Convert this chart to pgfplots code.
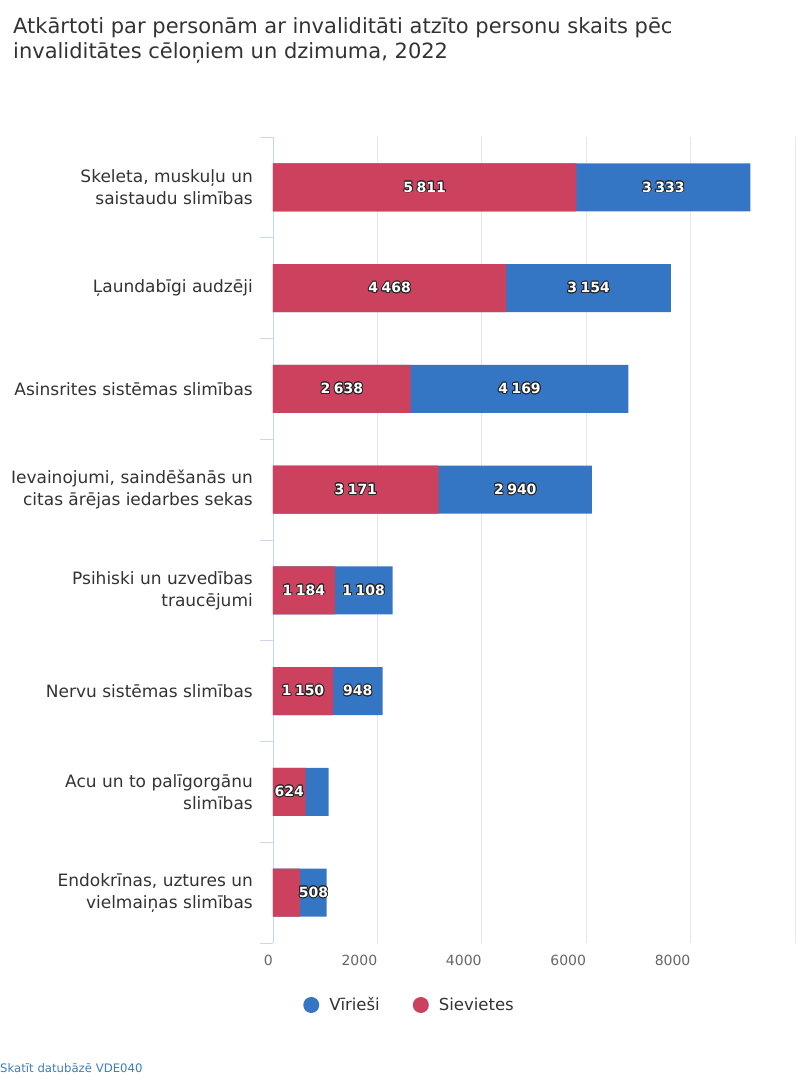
\documentclass[border=0pt]{standalone}
\usepackage{pgfplots}
\pgfplotsset{compat=1.18}
\usepackage{pgfplotstable}
\usepackage{fontspec}
\setmainfont{DejaVu Sans}
\usepackage[copies]{contour}
\contourlength{0.9pt}
\definecolor{cred}{HTML}{CC415E}
\definecolor{cblue}{HTML}{3476C4}
\definecolor{gridc}{HTML}{E6E6E6}
\definecolor{axisc}{HTML}{CCD6EB}
\definecolor{txt}{HTML}{333333}
\definecolor{tickc}{HTML}{666666}
\definecolor{linkc}{HTML}{3D7DBF}

% y: category index (0 = top), w = Sievietes, m = Vīrieši
\pgfplotstableread{
y w m
0 5811 3333
1 4468 3154
2 2638 4169
3 3171 2940
4 1184 1108
5 1150 948
6 624 440
7 520 508
}\data

\begin{document}
\begin{tikzpicture}[x=1pt,y=1pt]
\useasboundingbox (0,0) rectangle (810,1080);
\node[anchor=base west, text=txt, font=\fontsize{21}{24}\selectfont, inner sep=0pt] at (13,1046) {Atkārtoti par personām ar invaliditāti atzīto personu skaits pēc};
\node[anchor=base west, text=txt, font=\fontsize{21}{24}\selectfont, inner sep=0pt] at (13,1021) {invaliditātes cēloņiem un dzimuma, 2022};
\node[anchor=west, text=linkc, font=\fontsize{11.7}{14}\selectfont, inner sep=0pt] at (0,12) {Skatīt datubāzē VDE040};
\begin{axis}[
  at={(273pt,137pt)}, anchor=south west, scale only axis,
  width=522pt, height=806pt,
  xmin=0, xmax=10000, ymin=-0.5, ymax=7.5, y dir=reverse,
  scaled x ticks=false,
  axis x line*=bottom, axis y line*=left,
  x axis line style={draw=none}, y axis line style={draw=axisc, line width=0.8pt, -},
  xtick={0,2000,...,10000}, xticklabels={0,2000,4000,6000,8000,{}},
  xmajorgrids, major grid style={draw=gridc, line width=0.8pt},
  major tick length=0pt,
  xticklabel style={text=tickc, font=\fontsize{14}{14}\selectfont, anchor=north east, inner xsep=0pt, yshift=-9pt},
  ytick={0,...,7},
  yticklabels={{Skeleta, muskuļu un\\saistaudu slimības},{Ļaundabīgi audzēji},{Asinsrites sistēmas slimības},{Ievainojumi, saindēšanās un\\citas ārējas iedarbes sekas},{Psihiski un uzvedības\\traucējumi},{Nervu sistēmas slimības},{Acu un to palīgorgānu\\slimības},{Endokrīnas, uztures un\\vielmaiņas slimības}},
  yticklabel style={align=right, text=txt, font=\fontsize{17}{22}\selectfont, inner xsep=0pt, xshift=-20pt},
  extra y ticks={-0.5,0.5,...,7.5}, extra y tick labels={},
  extra y tick style={major tick length=13pt, tick align=outside, tick style={draw=axisc, line width=0.8pt}},
  legend style={at={(0.2615,-0.0769)}, anchor=center, draw=none, fill=none, font=\fontsize{16.5}{18}\selectfont, text=txt, legend columns=2, /tikz/every even column/.append style={column sep=31pt}},
  circlegend/.style={legend image code/.code={\fill[##1] (2pt,0pt) circle (8pt); \path (18pt,0pt);}},
  datalab/.style={draw=none, mark=none, forget plot, nodes near coords={\contour{black!85}{\textcolor{white}{\pgfmathprintnumber[1000 sep={\kern0.25em}, assume math mode=true]{\pgfplotspointmeta}}}}, nodes near coords style={anchor=center, inner sep=0pt, font=\bfseries\fontsize{14}{14}\selectfont}},
]
\addplot[xbar, bar shift=0pt, bar width=48pt, fill=cblue, draw=none, circlegend] table[x expr=\thisrow{w}+\thisrow{m}, y=y]{\data};
\addlegendentry{Vīrieši}
\addplot[xbar, bar shift=0pt, bar width=48pt, fill=cred, draw=none, circlegend] table[x=w, y=y]{\data};
\addlegendentry{Sievietes}
\addplot[datalab, point meta=\thisrow{w}, skip coords between index={7}{8}] table[x expr=\thisrow{w}/2, y=y]{\data};
\addplot[datalab, point meta=\thisrow{m}, skip coords between index={6}{7}] table[x expr=\thisrow{w}+\thisrow{m}/2, y=y]{\data};
\end{axis}
\end{tikzpicture}
\end{document}
